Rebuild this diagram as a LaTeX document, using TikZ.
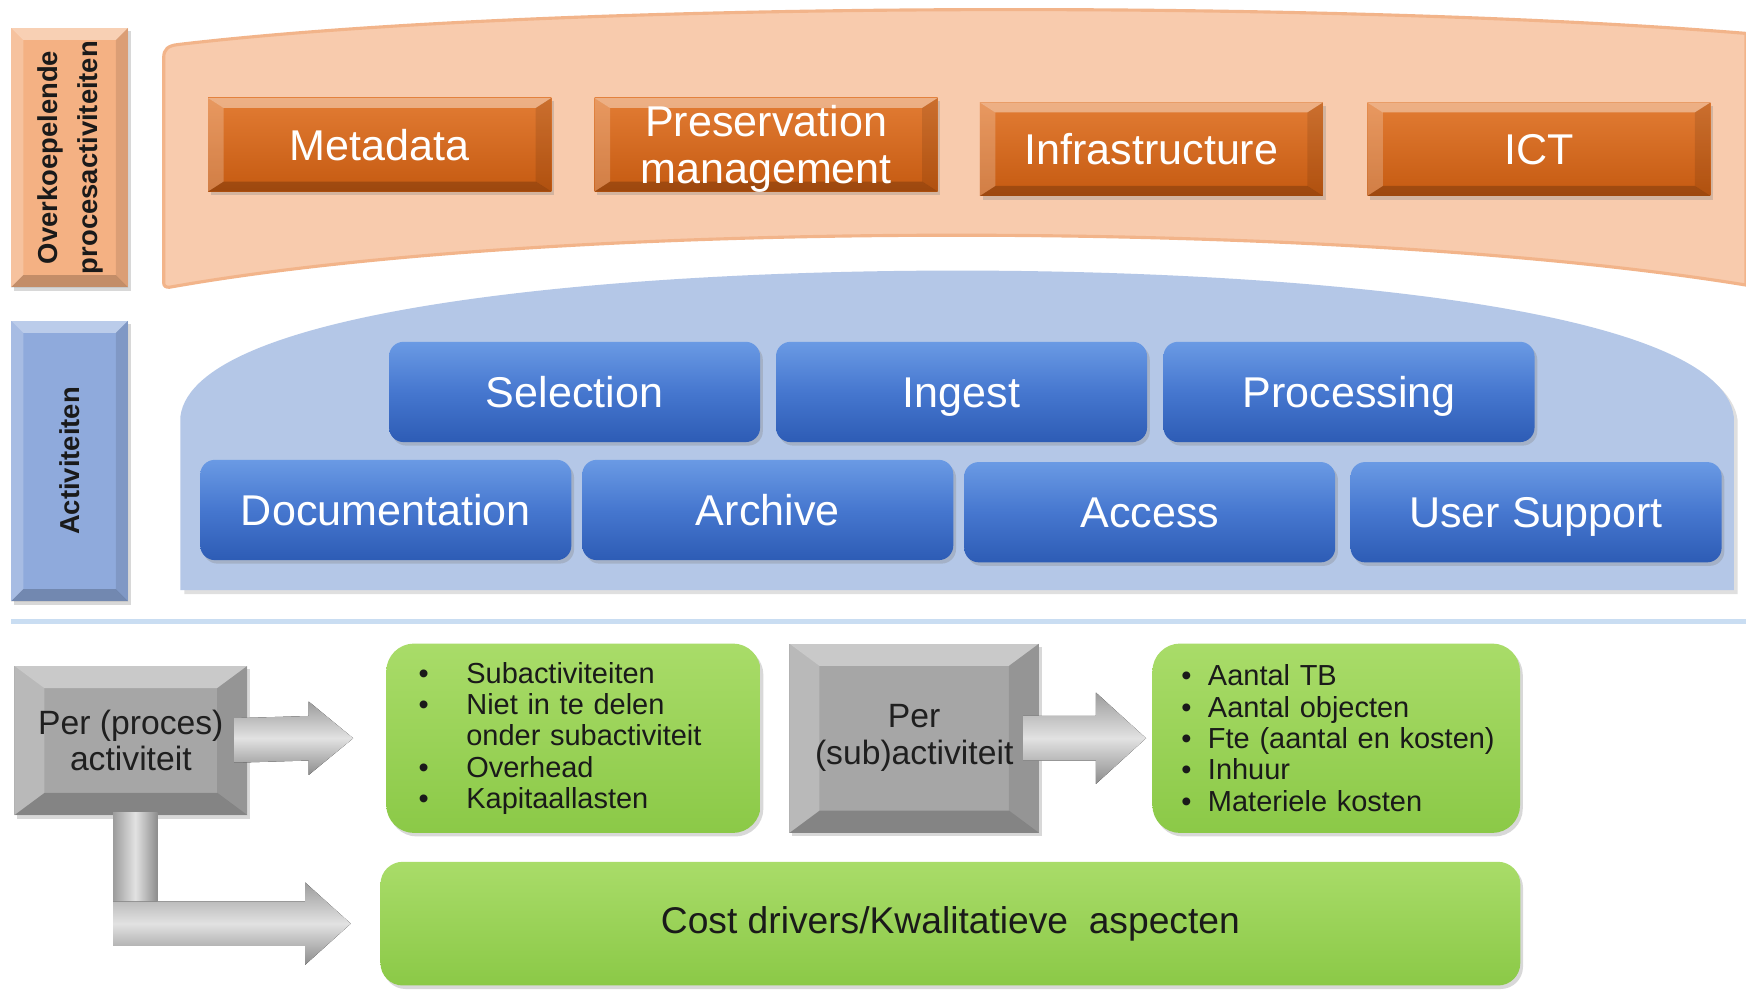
\documentclass[tikz,border=0pt]{standalone}
\usepackage{fontspec}
\setmainfont{Liberation Sans}
\usetikzlibrary{calc,shadows}

\definecolor{bandOr}{HTML}{F8CBAD}
\definecolor{bandOrEdge}{HTML}{F2B48A}
\definecolor{bandBl}{HTML}{B4C7E7}
\definecolor{orTop}{HTML}{E27C34}
\definecolor{orBot}{HTML}{C55A11}
\definecolor{labOr}{HTML}{F4B183}
\definecolor{labBl}{HTML}{8FAADC}
\definecolor{blTop}{HTML}{6A9AE4}
\definecolor{blMid}{HTML}{4677CF}
\definecolor{blBot}{HTML}{2D5CB5}
\definecolor{grTop}{HTML}{A9DC69}
\definecolor{grBot}{HTML}{8BC947}
\definecolor{gyFill}{HTML}{A6A6A6}
\definecolor{gyText}{HTML}{1F1F1F}
\definecolor{arrDark}{HTML}{9C9C9C}
\definecolor{arrLight}{HTML}{E2E2E2}
\definecolor{sepLine}{HTML}{C9DDF2}
\definecolor{txtDark}{HTML}{1A1A1A}

\newcommand\bul[1]{\makebox[#1][l]{\textbullet}}
\newcommand\litem[2]{\mbox{\bul{#1}#2}}

\tikzset{
  bevel/.style n args={2}{path picture={
    \path (path picture bounding box.north west) coordinate (pNW)
          (path picture bounding box.north east) coordinate (pNE)
          (path picture bounding box.south west) coordinate (pSW)
          (path picture bounding box.south east) coordinate (pSE);
    \fill[white,opacity=0.40] (pNW) -- (pNE) -- ($(pNE)+(-#1,#2)$) -- ($(pNW)+(#1,#2)$) -- cycle;
    \fill[white,opacity=0.22] (pNW) -- ($(pNW)+(#1,#2)$) -- ($(pSW)+(#1,-#2)$) -- (pSW) -- cycle;
    \fill[black,opacity=0.10] (pNE) -- ($(pNE)+(-#1,#2)$) -- ($(pSE)+(-#1,-#2)$) -- (pSE) -- cycle;
    \fill[black,opacity=0.20] (pSW) -- ($(pSW)+(#1,-#2)$) -- ($(pSE)+(-#1,-#2)$) -- (pSE) -- cycle;
  }},
  shadowed/.style={drop shadow={shadow xshift=0.7pt,shadow yshift=-0.9pt,opacity=0.3}},
  orbox/.style={shadowed, minimum width=3.08cm, minimum height=0.84cm, inner sep=0pt,
    top color=orTop, bottom color=orBot, bevel={14}{9}, text=white,
    font=\fontsize{11}{12}\selectfont, align=center},
  blbox/.style={shadowed, rounded corners=0.13cm, minimum width=3.33cm, minimum height=0.9cm,
    inner sep=0pt, top color=blTop, bottom color=blBot, middle color=blMid, text=white,
    font=\fontsize{11}{12}\selectfont, text height=7.9pt, text depth=0pt},
  labbox/.style={shadowed, minimum width=1.05cm, inner sep=0pt, bevel={11}{11}, text=txtDark,
    font=\bfseries\fontsize{7}{10}\selectfont},
  graybox/.style={shadowed, fill=gyFill, inner sep=0pt, bevel={27}{20}, text=gyText,
    font=\fontsize{8.6}{9.4}\selectfont, align=center},
  grbox/.style={shadowed, rounded corners=0.25cm, top color=grTop, bottom color=grBot, text=txtDark},
  listtext/.style={font=\fontsize{7.4}{8}\selectfont, align=left, inner ysep=0pt},
  arrowH/.style={top color=arrDark, bottom color=arrDark!90!black, middle color=arrLight},
  arrowV/.style={left color=arrDark, right color=arrDark!90!black, middle color=arrLight},
}

\begin{document}
\begin{tikzpicture}[x=0.01cm,y=-0.01cm]
\useasboundingbox (0,0) rectangle (1568,889);
\fill[white] (0,0) rectangle (1568,889);

% bands
\fill[bandOr, draw=bandOrEdge, line width=0.8pt]
  (147,52) .. controls (147,44) and (151,41) .. (160,40)
  .. controls (500,0) and (1200,0) .. (1568,30) -- (1568,256)
  .. controls (1200,196) and (500,196) .. (152,258)
  .. controls (149,258) and (147,257) .. (147,254) -- cycle;
\fill[bandBl, drop shadow={shadow xshift=1pt,shadow yshift=-1pt,opacity=0.25}]
  (162,530) -- (162,374) .. controls (175,275) and (560,243) .. (860,243)
  .. controls (1160,243) and (1545,275) .. (1557,374) -- (1557,530) -- cycle;
\draw[sepLine, line width=1.2pt] (10,558) -- (1568,558);

% label boxes
\node[labbox, fill=labOr, minimum height=2.33cm] (lab1) at (62.5,141.5)
  {\rotatebox{90}{\begin{tabular}{@{}c@{}}Overkoepelende\\procesactiviteiten\end{tabular}}};
\node[labbox, fill=labBl, minimum height=2.52cm] (lab2) at (62.5,414)
  {\rotatebox{90}{Activiteiten}};

% orange boxes
\node[orbox] (meta) at (341,130) {Metadata};
\node[orbox, text depth=0pt] (pres) at (688,130) {Preservation\\management};
\node[orbox] (infra) at (1034,134) {Infrastructure};
\node[orbox] (ict) at (1382,134) {ICT};

% blue boxes
\node[blbox] (sel) at (516,352) {Selection};
\node[blbox] (ing) at (863.5,352) {Ingest};
\node[blbox] (proc) at (1211.5,352) {Processing};
\node[blbox] (doc) at (346.5,458) {Documentation};
\node[blbox] (arch) at (689.5,458) {Archive};
\node[blbox] (acc) at (1032.5,460) {Access};
\node[blbox] (us) at (1379.5,460) {User Support};

% bottom part
\node[graybox, minimum width=2.09cm, minimum height=1.34cm] (g1) at (117.5,665) {Per (proces)\\activiteit};
\node[graybox, minimum width=2.24cm, minimum height=1.70cm] (g2) at (821,663) {Per\\(sub)activiteit};
\node[grbox, listtext, inner xsep=0.29cm, minimum width=3.36cm, minimum height=1.70cm, text width=2.78cm] (gr1) at (515,663)
  {\litem{12.2pt}{Subactiviteiten}\\\litem{12.2pt}{Niet in te delen}\\\mbox{\hspace*{12.2pt}onder subactiviteit}\\\litem{12.2pt}{Overhead}\\\litem{12.2pt}{Kapitaallasten}};
\node[grbox, listtext, inner xsep=0.26cm, minimum width=3.30cm, minimum height=1.70cm, text width=2.78cm] (gr2) at (1200,663)
  {\litem{6.8pt}{Aantal TB}\\\litem{6.8pt}{Aantal objecten}\\\litem{6.8pt}{Fte (aantal en kosten)}\\\litem{6.8pt}{Inhuur}\\\litem{6.8pt}{Materiele kosten}};
\node[grbox, rounded corners=0.2cm, minimum width=10.23cm, minimum height=1.11cm,
  font=\fontsize{9.5}{11}\selectfont] (cost) at (853.5,829.5) {Cost drivers/Kwalitatieve~~aspecten};

% block arrows
\coordinate (a1s) at ($(g1.east)+(-12,0)$);
\coordinate (a1t) at ($(gr1.west)+(-29,0)$);
\fill[arrowH] ($(a1s)+(0,-20)$) -- ($(a1t)+(-40,-20)$) -- ($(a1t)+(-40,-33)$) -- (a1t)
  -- ($(a1t)+(-40,33)$) -- ($(a1t)+(-40,20)$) -- ($(a1s)+(0,20)$) -- cycle;

\coordinate (a2s) at ($(g2.east)+(-15,0)$);
\coordinate (a2t) at ($(gr2.west)+(-5,0)$);
\fill[arrowH] ($(a2s)+(0,-20)$) -- ($(a2t)+(-45,-20)$) -- ($(a2t)+(-45,-41)$) -- (a2t)
  -- ($(a2t)+(-45,41)$) -- ($(a2t)+(-45,20)$) -- ($(a2s)+(0,20)$) -- cycle;

\coordinate (eTip) at ($(cost.west)+(-26,0)$);
\coordinate (eL) at ($(g1.south)+(-16,-3)$);
\coordinate (eR) at ($(g1.south)+(24,-3)$);
\coordinate (eHt) at ($(eTip)+(-41,-20)$);
\coordinate (eHb) at ($(eTip)+(-41,20)$);
\fill[arrowV] (eL) rectangle (eR |- eHt);
\fill[arrowH] (eL |- eHt) -- (eHt) -- ($(eTip)+(-41,-37)$) -- (eTip)
  -- ($(eTip)+(-41,37)$) -- (eHb) -- (eL |- eHb) -- cycle;
\end{tikzpicture}
\end{document}
